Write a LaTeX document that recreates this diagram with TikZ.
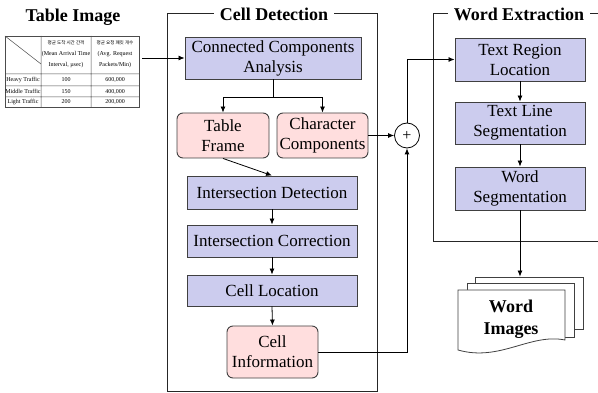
\documentclass[tikz,border=0pt]{standalone}
\usepackage{fontspec}
\setmainfont{Liberation Serif}
\newfontfamily\kofont{Noto Sans CJK KR}
\usetikzlibrary{arrows.meta}

\definecolor{boxblue}{HTML}{CCCCEE}
\definecolor{boxpink}{HTML}{FFDEDE}
\definecolor{edgegray}{HTML}{404040}

\begin{document}
\begin{tikzpicture}[x=1pt,y=-1pt,
  every node/.style={inner sep=1pt},
  boxtext/.style={font=\rmfamily\fontsize{17}{20}\selectfont},
  bluebox/.style={draw=edgegray, fill=boxblue, line width=0.9pt, align=center, boxtext},
  pinkbox/.style={draw=edgegray, fill=boxpink, rounded corners=6pt, line width=0.9pt,
    align=center, boxtext},
  arr/.style={-{Latex[length=6pt,width=5pt]}, line width=0.8pt},
  link/.style={line width=0.8pt},
  frameline/.style={draw=black!85, line width=0.9pt},
  frametitle/.style={fill=white, inner xsep=6pt, inner ysep=1pt,
    font=\rmfamily\fontsize{18}{20}\selectfont\bfseries},
  tcell/.style={font=\rmfamily\fontsize{6}{7}\selectfont, inner sep=0pt},
  kcell/.style={font=\kofont\fontsize{4.6}{6}\selectfont, inner sep=0pt},
]
\useasboundingbox (0,0) rectangle (598,393);
\clip (0,0) rectangle (598,393);

% ---------- input table ----------
\node[font=\rmfamily\fontsize{18}{20}\selectfont\bfseries] (tbltitle) at (73,17) {Table Image};
\draw[gray!60!black, line width=0.9pt] (5,36) rectangle (139,107);
\draw[gray!60!black, line width=0.5pt]
  (41,36) -- (41,107)  (91,36) -- (91,107)
  (5,74) -- (139,74)  (5,86) -- (139,86)  (5,97) -- (139,97)
  (5,36) -- (41,64);
\node[kcell] at (66,43) {평균 도착 시간 간격};
\node[tcell] at (66,54) {(Mean Arrival Time};
\node[tcell] at (66,65) {Interval, µsec)};
\node[kcell] at (115,43) {평균 요청 패킷 개수};
\node[tcell] at (115,54) {(Avg. Request};
\node[tcell] at (115,65) {Packets/Min)};
\node[tcell] at (23,80)  {Heavy Traffic};
\node[tcell] at (23,91.5){Middle Traffic};
\node[tcell] at (23,102) {Light Traffic};
\node[tcell] at (66,80)  {100};
\node[tcell] at (66,91.5){150};
\node[tcell] at (66,102) {200};
\node[tcell] at (115,80)  {600,000};
\node[tcell] at (115,91.5){400,000};
\node[tcell] at (115,102) {200,000};
\coordinate (tblout) at (142,58);

% ---------- cell detection ----------
\draw[frameline] (167,13) rectangle (377,391);
\node[frametitle] (cdtitle) at (274,14) {Cell Detection};

\node[bluebox, minimum width=176, minimum height=42] (cca) at (273,58)
  {Connected Components\\Analysis};
\node[pinkbox, minimum width=92, minimum height=45] (tf) at (223,135.5) {Table\\Frame};
\node[pinkbox, minimum width=91, minimum height=45] (cc) at (322.5,135.5)
  {Character\\Components};
\node[bluebox, minimum width=170, minimum height=33] (id) at (272,192.5)
  {Intersection Detection};
\node[bluebox, minimum width=170, minimum height=32] (ic) at (272,241)
  {Intersection Correction};
\node[bluebox, minimum width=170, minimum height=31] (cl) at (272,290.5)
  {Cell Location};
\node[pinkbox, minimum width=91, minimum height=52] (ci) at (272.5,352)
  {Cell\\Information};

% ---------- merge ----------
\node[draw, circle, line width=0.8pt, minimum size=25, inner sep=0pt, fill=white,
  font=\rmfamily\fontsize{16}{16}\selectfont] (plus) at (407,135.5) {+};

% ---------- word extraction ----------
\draw[frameline] (600,13) -- (433,13) -- (433,241) -- (600,241);
\node[frametitle] (wetitle) at (519,14) {Word Extraction};

\node[bluebox, minimum width=130, minimum height=43] (trl) at (520,59.5)
  {Text Region\\Location};
\node[bluebox, minimum width=130, minimum height=42] (tls) at (520,123)
  {Text Line\\Segmentation};
\node[bluebox, minimum width=130, minimum height=43] (ws) at (520,188.5)
  {Word\\Segmentation};

% ---------- output documents ----------
\node[draw=edgegray, fill=white, line width=0.8pt, minimum width=108, minimum height=52]
  (wback) at (529,303) {};
\draw[draw=edgegray, fill=white, line width=0.8pt] (467,283) rectangle (574,337);
\draw[draw=edgegray, fill=white, line width=0.8pt]
  (458,290) -- (565,290) -- (565,340)
  .. controls (530,333) and (500,362) .. (458,350) -- cycle;
\node[align=center, font=\rmfamily\fontsize{18}{22}\selectfont\bfseries] (wimg) at (511,319)
  {Word\\Images};

% ---------- connectors ----------
\coordinate (split) at (273,97);
\draw[arr] (tblout) -- (cca.west);
\draw[link] (cca.south) -- (split);
\draw[arr] (split) -| (tf.north);
\draw[arr] (split) -| (cc.north);
\draw[arr] (tf.south) -- (id.north);
\draw[arr] (id.south) -- (ic.north);
\draw[arr] (ic.south) -- (cl.north);
\draw[arr] (cl.south) -- (ci.north);
\draw[arr] (cc.east) -- (plus.west);
\draw[arr] (ci.east) -| (plus.south);
\draw[arr] (plus.north) |- (trl.west);
\draw[arr] (trl.south) -- (tls.north);
\draw[arr] (tls.south) -- (ws.north);
\draw[arr] (ws.south) -- (ws.south |- wback.north);
\end{tikzpicture}
\end{document}
